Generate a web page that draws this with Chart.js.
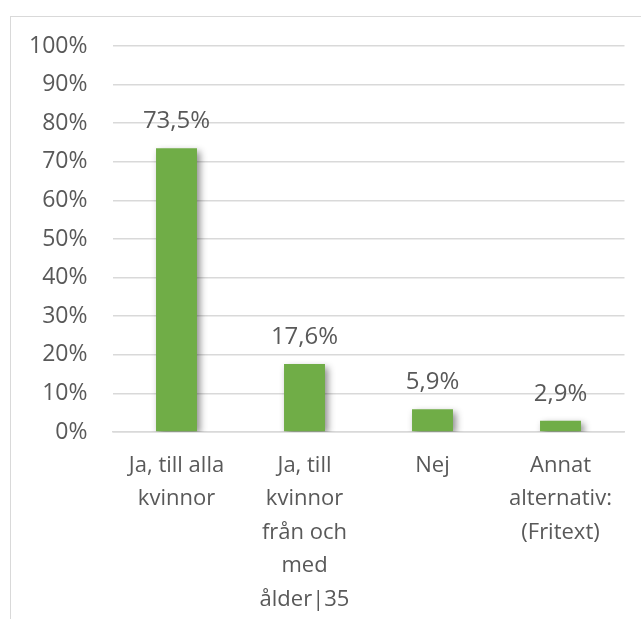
<!DOCTYPE html>
<html>
<head>
<meta charset="utf-8">
<script src="https://cdn.jsdelivr.net/npm/chart.js@4"></script>
<style>
  html, body { margin: 0; padding: 0; background: #fff; overflow: hidden; }
  #wrap { position: relative; width: 641px; height: 619px; overflow: hidden; }
  #frame { position: absolute; left: 10px; top: 16px; width: 700px; height: 700px; border: 1px solid #d9d9d9; box-sizing: border-box; }
  canvas { position: absolute; left: 0; top: 0; }
</style>
</head>
<body>
<div id="wrap">
  <div id="frame"></div>
  <canvas id="barChart" width="641" height="619"></canvas>
</div>
<script>
// data
const categories = [
    ['Ja, till alla', 'kvinnor'],
    ['Ja, till', 'kvinnor', 'från och', 'med', 'ålder|35'],
    'Nej',
    ['Annat', 'alternativ:', '(Fritext)']
];
const percentValues = [73.5, 17.6, 5.9, 2.9];
const yTicks = [0, 10, 20, 30, 40, 50, 60, 70, 80, 90, 100];

const FONT = "'Open Sans', sans-serif";
const TEXT = '#595959';

function fmt(v) {
    return v.toFixed(1).replace('.', ',') + '%';
}

// drop shadow behind the bars, like the office chart
const shadowPlugin = {
    id: 'barShadow',
    beforeDatasetsDraw(chart) {
        const ctx = chart.ctx;
        ctx.save();
        ctx.shadowColor = 'rgba(0,0,0,0.45)';
        ctx.shadowBlur = 7;
        ctx.shadowOffsetX = 3;
        ctx.shadowOffsetY = 3;
    },
    afterDatasetsDraw(chart) {
        chart.ctx.restore();
    }
};

// value labels above each bar
const valueLabels = {
    id: 'valueLabels',
    afterDraw(chart) {
        const ctx = chart.ctx;
        const meta = chart.getDatasetMeta(0);
        ctx.save();
        ctx.font = '24px ' + FONT;
        ctx.fillStyle = TEXT;
        ctx.textAlign = 'center';
        ctx.textBaseline = 'middle';
        meta.data.forEach((bar, i) => {
            ctx.fillText(fmt(percentValues[i]), bar.x, bar.y - 27);
        });
        ctx.restore();
    }
};

new Chart(document.getElementById('barChart'), {
    type: 'bar',
    data: {
        labels: categories,
        datasets: [{
            data: percentValues,
            backgroundColor: '#70ad47',
            borderWidth: 0,
            categoryPercentage: 1,
            barPercentage: 0.32
        }]
    },
    options: {
        responsive: false,
        animation: false,
        layout: { padding: { top: 46, right: 16.5, left: 0, bottom: 0 } },
        plugins: {
            legend: { display: false },
            tooltip: { enabled: false }
        },
        scales: {
            x: {
                grid: { display: false, drawTicks: false },
                border: { display: true, color: '#d9d9d9', width: 1.5 },
                ticks: {
                    color: TEXT,
                    padding: 17,
                    maxRotation: 0,
                    autoSkip: false,
                    font: { family: FONT, size: 22, lineHeight: 1.52 }
                },
                afterFit(scale) { scale.height = 187; }
            },
            y: {
                min: 0,
                max: 100,
                grid: { color: '#d9d9d9', lineWidth: 1.5, drawTicks: false },
                border: { display: false },
                afterBuildTicks(scale) { scale.ticks = yTicks.map(v => ({ value: v })); },
                ticks: {
                    color: TEXT,
                    padding: 25,
                    font: { family: FONT, size: 23 },
                    callback: v => v + '%'
                },
                afterFit(scale) { scale.width = 112.5; }
            }
        }
    },
    plugins: [shadowPlugin, valueLabels]
});
</script>
</body>
</html>
